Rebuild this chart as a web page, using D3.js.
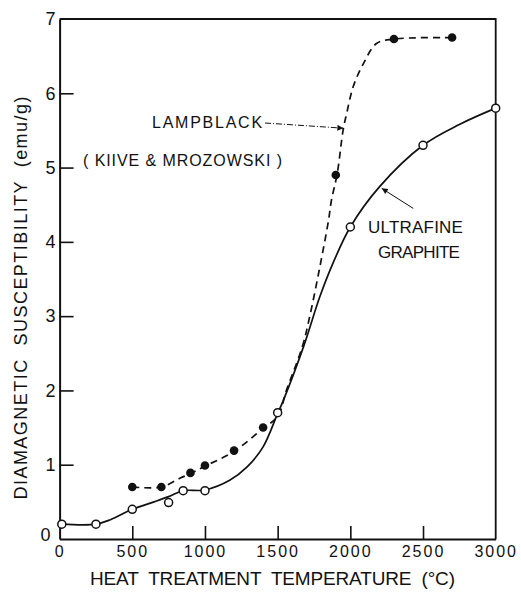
<!DOCTYPE html>
<html><head><meta charset="utf-8">
<script src="https://cdn.jsdelivr.net/npm/d3@7"></script>
<style>
html,body{margin:0;padding:0;background:#fff;}
text{font-family:"Liberation Sans",Arial,sans-serif;fill:#111;}
.pre{white-space:pre;}
</style></head>
<body><svg id="c" width="521" height="593"></svg>
<script>
// ---- data ----
const xTicks = [0, 500, 1000, 1500, 2000, 2500, 3000];
const yTicks = [0, 1, 2, 3, 4, 5, 6, 7];
// Ultrafine graphite measured points (open circles)
const ufTemps = [15, 250, 500, 750, 850, 1000, 1500, 2000, 2500, 3000];
const ufValues = [0.2, 0.2, 0.4, 0.49, 0.65, 0.65, 1.7, 4.2, 5.3, 5.8];
// Lampblack (Kiive & Mrozowski) points (filled circles)
const lbTemps = [500, 700, 900, 1000, 1200, 1400, 1900, 2300, 2700];
const lbValues = [0.7, 0.7, 0.89, 0.99, 1.19, 1.5, 4.9, 6.73, 6.75];
// Smooth drawn curves
const ufCurveTemps = [15, 250, 350, 500, 650, 750, 850, 1000, 1170, 1290, 1400, 1500, 1540, 1680, 1790, 1880, 2000, 2200, 2500, 2750, 3000];
const ufCurveValues = [0.2, 0.2, 0.26, 0.4, 0.5, 0.57, 0.65, 0.66, 0.79, 0.97, 1.24, 1.69, 1.87, 2.6, 3.26, 3.71, 4.2, 4.74, 5.3, 5.58, 5.8];
const lbCurveTemps = [500, 700, 830, 900, 1000, 1200, 1400, 1500, 1560, 1670, 1720, 1790, 1850, 1870, 1910, 1950, 1975, 2020, 2090, 2180, 2300, 2700];
const lbCurveValues = [0.7, 0.7, 0.82, 0.88, 0.98, 1.18, 1.49, 1.65, 2.0, 2.59, 2.99, 3.66, 4.29, 4.56, 4.92, 5.5, 5.73, 6.09, 6.4, 6.67, 6.73, 6.75];

const svg = d3.select("#c");
const x = d3.scaleLinear().domain([0, 3000]).range([59.6, 495.7]);
const y = d3.scaleLinear().domain([0, 7]).range([539, 19]);

// frame
svg.append("path")
  .attr("d", `M${x(0)},${y(7)}H${x(3000)}V${y(0)}`)
  .attr("fill", "none").attr("stroke", "#111").attr("stroke-width", 1.8);

// x axis
const gx = svg.append("g").attr("transform", `translate(0,${y(0)})`)
  .call(d3.axisBottom(x).tickValues(xTicks).tickSizeInner(-13).tickSizeOuter(0).tickPadding(7).tickFormat(d3.format("d")));
gx.select(".domain").attr("stroke", "#111").attr("stroke-width", 2);
gx.selectAll(".tick line").attr("stroke", "#111").attr("stroke-width", 1.6)
  .filter(d => d === 0 || d === 3000).remove();
gx.selectAll(".tick text").attr("font-size", 16).attr("letter-spacing", 2).attr("fill", "#111")
  .attr("font-family", '"Liberation Sans",Arial,sans-serif');

// y axis
const gy = svg.append("g").attr("transform", `translate(${x(0)},0)`)
  .call(d3.axisLeft(y).tickValues(yTicks).tickSizeInner(-14).tickSizeOuter(0).tickPadding(4).tickFormat(d3.format("d")));
gy.select(".domain").attr("stroke", "#111").attr("stroke-width", 2);
gy.selectAll(".tick line").attr("stroke", "#111").attr("stroke-width", 1.6)
  .filter(d => d === 0 || d === 7).remove();
gy.selectAll(".tick text").attr("font-size", 18).attr("fill", "#111")
  .attr("font-family", '"Liberation Sans",Arial,sans-serif');
gy.selectAll(".tick text").filter(d => d === 0).attr("dx", -5).attr("dy", "0.1em");

// axis titles
svg.append("text").attr("class", "pre").attr("x", (90 + 455) / 2).attr("y", 585).attr("text-anchor", "middle")
  .attr("font-size", 19).attr("textLength", 365).attr("lengthAdjust", "spacing")
  .text("HEAT  TREATMENT  TEMPERATURE  (°C)");
svg.append("text").attr("class", "pre").attr("transform", "translate(27,298) rotate(-90)").attr("text-anchor", "middle")
  .attr("font-size", 18).attr("textLength", 403).attr("lengthAdjust", "spacing")
  .text("DIAMAGNETIC  SUSCEPTIBILITY  (emu/g)");

// curves
const line = d3.line().x(d => x(d[0])).y(d => y(d[1])).curve(d3.curveCatmullRom.alpha(0.5));
svg.append("path").datum(ufCurveTemps.map((t, i) => [t, ufCurveValues[i]]))
  .attr("d", line).attr("fill", "none").attr("stroke", "#111").attr("stroke-width", 1.7);
svg.append("path").datum(lbCurveTemps.map((t, i) => [t, lbCurveValues[i]]))
  .attr("d", line).attr("fill", "none").attr("stroke", "#111").attr("stroke-width", 1.7)
  .attr("stroke-dasharray", "7,5");

// points
svg.append("g").selectAll("circle").data(lbTemps.map((t, i) => [t, lbValues[i]])).join("circle")
  .attr("cx", d => x(d[0])).attr("cy", d => y(d[1])).attr("r", 4.3).attr("fill", "#111");
svg.append("g").selectAll("circle").data(ufTemps.map((t, i) => [t, ufValues[i]])).join("circle")
  .attr("cx", d => x(d[0])).attr("cy", d => y(d[1])).attr("r", 4).attr("fill", "#fff")
  .attr("stroke", "#111").attr("stroke-width", 1.5);

// arrowheads
const defs = svg.append("defs");
defs.append("marker").attr("id", "ah").attr("viewBox", "0 0 10 10").attr("refX", 10).attr("refY", 5)
  .attr("markerWidth", 9).attr("markerHeight", 6).attr("markerUnits", "userSpaceOnUse").attr("orient", "auto")
  .append("path").attr("d", "M0,0L10,5L0,10Z").attr("fill", "#111");

// annotations
svg.append("text").attr("x", x(636)).attr("y", y(5.53)).attr("font-size", 16)
  .attr("textLength", 110).attr("lengthAdjust", "spacing").text("LAMPBLACK");
svg.append("text").attr("x", x(161)).attr("y", y(5.02)).attr("font-size", 16)
  .attr("textLength", 199).attr("lengthAdjust", "spacing").text("( KIIVE & MROZOWSKI )");
svg.append("line").attr("x1", x(1413)).attr("y1", y(5.6)).attr("x2", x(1952)).attr("y2", y(5.53))
  .attr("stroke", "#111").attr("stroke-width", 1).attr("stroke-dasharray", "6,2,1,2")
  .attr("marker-end", "url(#ah)");

svg.append("text").attr("x", x(2448)).attr("y", y(4.12)).attr("text-anchor", "middle").attr("font-size", 17)
  .attr("textLength", 95).attr("lengthAdjust", "spacing").text("ULTRAFINE");
svg.append("text").attr("x", x(2472)).attr("y", y(3.78)).attr("text-anchor", "middle").attr("font-size", 17)
  .attr("textLength", 82).attr("lengthAdjust", "spacing").text("GRAPHITE");
svg.append("line").attr("x1", x(2433)).attr("y1", y(4.45)).attr("x2", x(2216)).attr("y2", y(4.72))
  .attr("stroke", "#111").attr("stroke-width", 1)
  .attr("marker-end", "url(#ah)");
</script></body></html>
